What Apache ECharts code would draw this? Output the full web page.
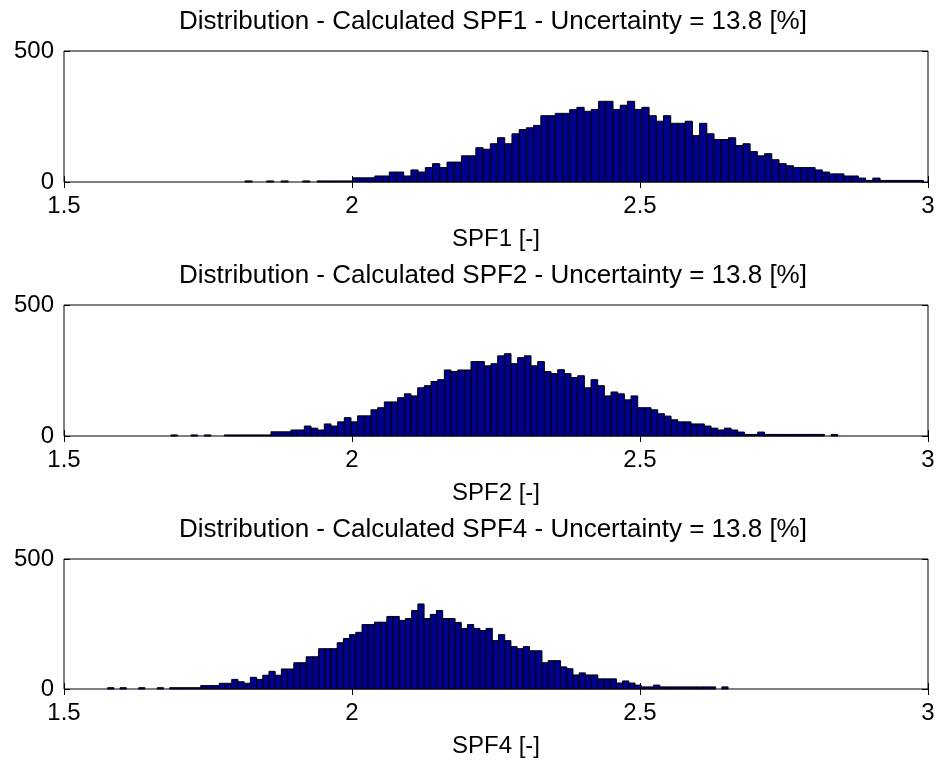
<!DOCTYPE html>
<html>
<head>
<meta charset="utf-8">
<script src="https://cdn.jsdelivr.net/npm/echarts@6/dist/echarts.min.js"></script>
<style>
  html, body { margin: 0; padding: 0; background: #fff; }
  #chart { width: 939px; height: 763px; }
</style>
</head>
<body>
<div id="chart"></div>
<script>
// ---- Data ----
const titles = [
  'Distribution - Calculated SPF1 - Uncertainty = 13.8 [%]',
  'Distribution - Calculated SPF2 - Uncertainty = 13.8 [%]',
  'Distribution - Calculated SPF4 - Uncertainty = 13.8 [%]'
];
const xNames = ['SPF1 [-]', 'SPF2 [-]', 'SPF4 [-]'];
const xTicks = [1.5, 2, 2.5, 3];
const yTicks = [0, 500];

// histogram bins: first bin left edge and bin width (x units)
const binStart1 = 1.8141, binWidth1 = 0.01253;
const binStart2 = 1.6857, binWidth2 = 0.011576;
const binStart4 = 1.5758, binWidth4 = 0.010771;

const counts1 = [
  4,0,0,4,0,4,0,0,4,0,4,4,4,4,4,
  16,16,16,23,23,38,38,23,46,38,
  55,70,55,76,76,100,100,131,125,146,
  169,146,184,200,207,216,253,253,262,262,
  276,285,270,277,308,308,277,293,308,277,
  285,253,232,253,224,224,232,177,224,184,
  162,162,169,139,146,116,100,108,85,70,
  62,55,55,55,46,38,31,31,23,23,
  15,6,15,6,6,6,6,6,6
];
const counts2 = [
  4,0,0,4,0,4,0,0,4,4,4,4,4,4,4,
  16,16,16,23,23,38,30,23,46,38,
  54,70,54,77,77,100,108,130,130,146,
  161,153,184,192,208,215,252,246,252,252,
  284,284,268,276,306,
  314,276,299,306,268,284,246,238,253,238,
  223,230,184,215,192,153,168,161,138,153,
  108,108,100,85,76,62,54,54,46,46,
  38,30,23,30,23,15,6,6,15,6,
  6,6,6,6,6,6,6,6,0,6
];
const counts4 = [
  5,0,5,0,0,5,0,0,5,0,5,5,5,5,5,
  13,13,13,22,22,37,28,22,45,37,
  53,68,53,77,77,101,101,124,124,155,
  155,155,178,194,209,218,248,248,257,257,
  279,279,264,271,
  302,327,271,287,302,271,271,256,233,248,
  233,225,233,186,209,186,163,155,163,147,
  147,101,109,109,85,78,54,62,54,54,
  39,39,39,23,31,23,15,8,8,15,
  8,8,8,8,8,8,8,8,8,0,8
];

const histograms = [
  { start: binStart1, width: binWidth1, counts: counts1 },
  { start: binStart2, width: binWidth2, counts: counts2 },
  { start: binStart4, width: binWidth4, counts: counts4 }
];

// ---- Layout ----
const FONT = "'Liberation Sans', Arial, Helvetica, sans-serif";
const gridTops = [51, 305, 559];
const gridHeights = [131, 131, 130];
const gridLeft = 64, gridRight = 11;
const titleCenterX = 493;

const grids = [], xAxes = [], yAxes = [], series = [], graphics = [];

histograms.forEach((h, k) => {
  grids.push({
    left: gridLeft, right: gridRight, top: gridTops[k], height: gridHeights[k],
    show: true, borderColor: '#000', borderWidth: 1, backgroundColor: 'transparent'
  });
  const tickStyle = { inside: true, length: 6, lineStyle: { color: '#000', width: 1 } };
  xAxes.push({
    gridIndex: k, type: 'value', position: 'bottom',
    min: xTicks[0], max: xTicks[xTicks.length - 1], interval: xTicks[1] - xTicks[0],
    axisLine: { show: false }, splitLine: { show: false },
    axisTick: tickStyle,
    axisLabel: { fontSize: 24, color: '#000', fontFamily: FONT, margin: 12 },
    name: xNames[k], nameLocation: 'middle', nameGap: 45,
    nameTextStyle: { fontSize: 24, color: '#000', fontFamily: FONT }
  });
  xAxes.push({
    gridIndex: k, type: 'value', position: 'top',
    min: xTicks[0], max: xTicks[xTicks.length - 1], interval: xTicks[1] - xTicks[0],
    axisLine: { show: false }, splitLine: { show: false },
    axisTick: tickStyle, axisLabel: { show: false }
  });
  yAxes.push({
    gridIndex: k, type: 'value', position: 'left',
    min: yTicks[0], max: yTicks[yTicks.length - 1], interval: yTicks[1] - yTicks[0],
    axisLine: { show: false }, splitLine: { show: false },
    axisTick: tickStyle,
    axisLabel: { fontSize: 24, color: '#000', fontFamily: FONT, margin: 10 }
  });
  yAxes.push({
    gridIndex: k, type: 'value', position: 'right',
    min: yTicks[0], max: yTicks[yTicks.length - 1], interval: yTicks[1] - yTicks[0],
    axisLine: { show: false }, splitLine: { show: false },
    axisTick: tickStyle, axisLabel: { show: false }
  });
  const data = h.counts.map((c, i) => [h.start + i * h.width, h.start + (i + 1) * h.width, c]);
  series.push({
    type: 'custom',
    xAxisIndex: 2 * k, yAxisIndex: 2 * k,
    data: data,
    encode: { x: [0, 1], y: 2 },
    renderItem: function (params, api) {
      const x0 = api.value(0), x1 = api.value(1), c = api.value(2);
      if (!c) return null;
      const p0 = api.coord([x0, 0]);
      const p1 = api.coord([x1, c]);
      const cs = params.coordSys;
      const rect = echarts.graphic.clipRectByRect(
        { x: p0[0], y: p1[1], width: p1[0] - p0[0], height: p0[1] - p1[1] },
        { x: cs.x, y: cs.y, width: cs.width, height: cs.height }
      );
      if (!rect) return null;
      return {
        type: 'rect', shape: rect,
        style: { fill: '#00008F', stroke: '#000', lineWidth: 1 }
      };
    },
    animation: false
  });
  graphics.push({
    type: 'text', x: titleCenterX, y: gridTops[k] - 29,
    style: {
      text: titles[k], fill: '#000', font: '26px ' + FONT,
      textAlign: 'center', textVerticalAlign: 'middle'
    }
  });
});

const chart = echarts.init(document.getElementById('chart'), null, { renderer: 'canvas' });
chart.setOption({
  animation: false,
  backgroundColor: '#fff',
  grid: grids,
  xAxis: xAxes,
  yAxis: yAxes,
  series: series,
  graphic: graphics
});
</script>
</body>
</html>
